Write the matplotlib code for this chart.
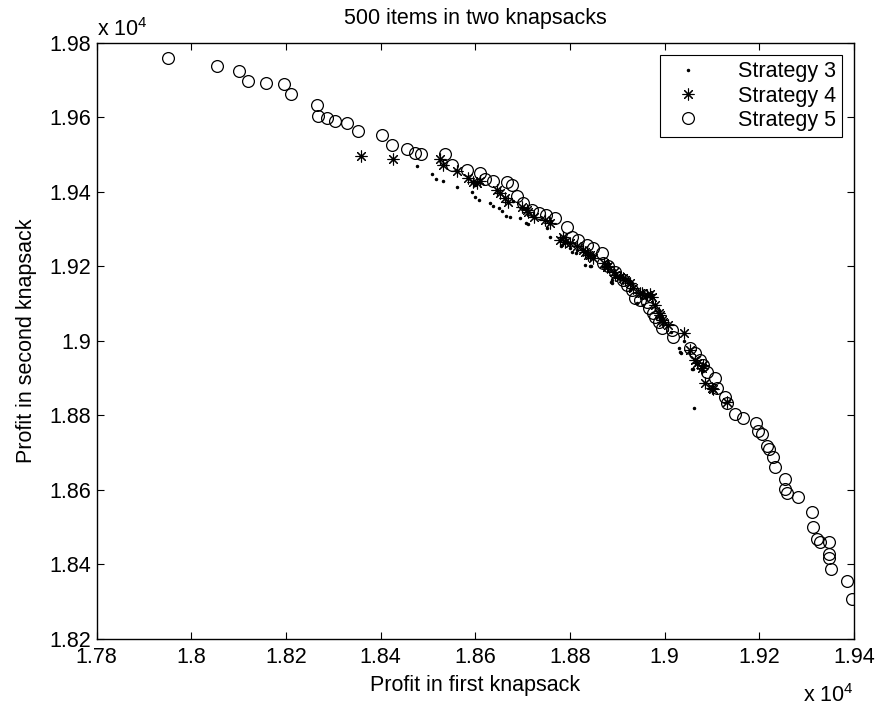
import numpy as np
import matplotlib
matplotlib.use('Agg')
import matplotlib.pyplot as plt
from matplotlib.ticker import FuncFormatter

plt.rcParams['font.family'] = ['Liberation Sans', 'DejaVu Sans']
plt.rcParams['mathtext.fontset'] = 'custom'
plt.rcParams['mathtext.rm'] = 'Liberation Sans'
plt.rcParams['mathtext.default'] = 'regular'

# ---- data (profit in first / second knapsack) ----
s3_x = [18476, 18508, 18517, 18531, 18561, 18594, 18600, 18608, 18600, 18631, 18638, 18651,
        18656, 18665, 18673, 18680, 18695, 18707, 18712, 18751, 18757, 18760, 18781, 18783,
        18800, 18804, 18813, 18814, 18832, 18842, 18844, 18850, 18887, 18888, 18888, 18900,
        18927, 18941, 18955, 18960, 18990, 19014, 19031, 19033, 19034, 19040, 19058, 19059,
        19062, 19080, 19100]
s3_y = [19471, 19448, 19435, 19430, 19414, 19399, 19387, 19379, 19420, 19371, 19362, 19358,
        19350, 19336, 19334, 19375, 19329, 19318, 19314, 19302, 19278, 19322, 19255, 19258,
        19249, 19240, 19235, 19244, 19204, 19201, 19202, 19228, 19159, 19164, 19155, 19172,
        19137, 19101, 19097, 19115, 19060, 19025, 18980, 18971, 18969, 19000, 18926, 18924,
        18819, 18920, 18880]

s4_x = [18359, 18427, 18526, 18531, 18561, 18585, 18596, 18603, 18610, 18645, 18652, 18663,
        18670, 18698, 18709, 18712, 18723, 18747, 18757, 18779, 18786, 18790, 18800, 18814,
        18828, 18832, 18839, 18842, 18849, 18871, 18878, 18881, 18892, 18895, 18906, 18913,
        18916, 18927, 18934, 18948, 18952, 18962, 18968, 18973, 18980, 18987, 18991, 18994,
        18997, 19008, 19040, 19054, 19064, 19068, 19078, 19082, 19085, 19099, 19102, 19131]
s4_y = [19497, 19489, 19489, 19472, 19456, 19437, 19428, 19423, 19430, 19405, 19396, 19383,
        19374, 19361, 19352, 19347, 19334, 19325, 19316, 19271, 19280, 19267, 19262, 19255,
        19244, 19240, 19231, 19231, 19222, 19209, 19199, 19200, 19186, 19177, 19173, 19168,
        19164, 19155, 19141, 19128, 19128, 19123, 19126, 19119, 19097, 19074, 19070, 19056,
        19052, 19043, 19021, 18976, 18949, 18940, 18927, 18936, 18886, 18873, 18871, 18837]

s5_x = [17952, 18055, 18102, 18119, 18157, 18196, 18211, 18266, 18268, 18287, 18304, 18329,
        18352, 18404, 18424, 18455, 18473, 18485, 18537, 18551, 18582, 18610, 18621, 18637,
        18667, 18678, 18688, 18700, 18719, 18735, 18749, 18768, 18793, 18804, 18818, 18836,
        18849, 18867, 18870, 18881, 18895, 18913, 18921, 18930, 18937, 18948, 18962, 18966,
        18976, 18980, 18987, 18994, 19015, 19017, 19054, 19064, 19075, 19082, 19089, 19106,
        19110, 19128, 19131, 19148, 19166, 19193, 19198, 19205, 19217, 19221, 19229, 19233,
        19254, 19255, 19259, 19281, 19311, 19314, 19322, 19328, 19347, 19347, 19348, 19351,
        19386, 19395]
s5_y = [19760, 19738, 19726, 19699, 19692, 19690, 19663, 19634, 19605, 19599, 19590, 19584,
        19565, 19552, 19527, 19516, 19505, 19503, 19503, 19472, 19459, 19450, 19434, 19430,
        19428, 19420, 19390, 19370, 19352, 19343, 19338, 19329, 19307, 19280, 19271, 19258,
        19249, 19235, 19209, 19200, 19186, 19164, 19150, 19137, 19115, 19110, 19105, 19088,
        19074, 19065, 19052, 19034, 19030, 19012, 18980, 18967, 18949, 18936, 18918, 18900,
        18873, 18850, 18833, 18803, 18794, 18779, 18757, 18750, 18718, 18709, 18688, 18663,
        18630, 18602, 18593, 18580, 18540, 18500, 18468, 18460, 18459, 18427, 18418, 18389,
        18356, 18308]

x_ticks = [17800, 18000, 18200, 18400, 18600, 18800, 19000, 19200, 19400]
y_ticks = [18200, 18400, 18600, 18800, 19000, 19200, 19400, 19600, 19800]


def fmt(v, pos):
    return '%g' % round(v / 1e4, 4)


FS = 15.5

fig = plt.figure(figsize=(8.79, 7.08), dpi=100)
ax = fig.add_axes([0.1098, 0.0975, 0.8618, 0.8418])

ax.plot(s3_x, s3_y, '.', color='k', markersize=3, label='Strategy 3')
ax.plot(s4_x, s4_y, linestyle='none', marker=(8, 2, 0), markersize=8.5,
        markeredgecolor='k', markeredgewidth=0.8, label='Strategy 4')
ax.plot(s5_x, s5_y, linestyle='none', marker='o', markersize=8.5,
        markerfacecolor='none', markeredgecolor='k', markeredgewidth=0.9, label='Strategy 5')

ax.set_xlim(17800, 19400)
ax.set_ylim(18200, 19800)
ax.set_xticks(x_ticks)
ax.set_yticks(y_ticks)
ax.xaxis.set_major_formatter(FuncFormatter(fmt))
ax.yaxis.set_major_formatter(FuncFormatter(fmt))
ax.tick_params(direction='in', top=True, right=True, length=5, width=0.8, labelsize=FS)
ax.tick_params(axis='x', pad=6)
ax.tick_params(axis='y', pad=4)
for sp in ax.spines.values():
    sp.set_linewidth(1.0)

ax.set_title('500 items in two knapsacks', fontsize=FS, pad=14)
ax.set_xlabel('Profit in first knapsack', fontsize=FS, labelpad=5)
ax.set_ylabel('Profit in second knapsack', fontsize=FS, labelpad=9)

ax.text(0.0, 1.004, r'x 10$^{4}$', transform=ax.transAxes, fontsize=FS,
        ha='left', va='bottom')
ax.text(1.0, -0.076, r'x 10$^{4}$', transform=ax.transAxes, fontsize=FS,
        ha='right', va='top')

leg = ax.legend(loc='upper right', fontsize=FS, fancybox=False, framealpha=1,
                edgecolor='k', borderaxespad=0.55, labelspacing=0.15,
                handlelength=2.0, handletextpad=1.3, borderpad=0.3)
leg.get_frame().set_linewidth(0.8)

fig.savefig('out.png', dpi=100)
